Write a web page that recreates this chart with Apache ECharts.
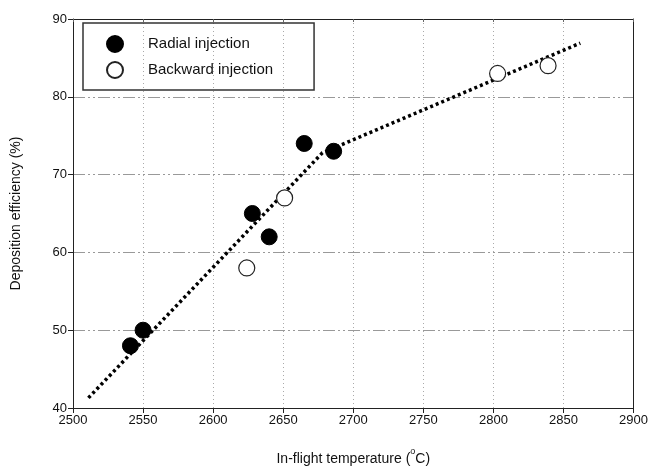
<!DOCTYPE html>
<html>
<head>
<meta charset="utf-8">
<script src="https://cdn.jsdelivr.net/npm/echarts@6/dist/echarts.min.js"></script>
<style>
  html, body { margin: 0; padding: 0; background: #fff; }
  #chart-container { width: 651px; height: 476px; }
</style>
</head>
<body>
<div id="chart-container"></div>
<script>
// datos
const radialTemp = [2541, 2550, 2628, 2640, 2665, 2686];
const radialDE = [48, 50, 65, 62, 74, 73];
const backwardTemp = [2624, 2651, 2803, 2839];
const backwardDE = [58, 67, 83, 84];
// recta de ajuste (dos tramos)
const fitTemp = [2511, 2678, 2862];
const fitDE = [41.3, 72.8, 86.9];

const xTicks = [2500, 2550, 2600, 2650, 2700, 2750, 2800, 2850, 2900];
const yTicks = [40, 50, 60, 70, 80, 90];

let myChart = echarts.init(document.getElementById('chart-container'), null, {
  renderer: 'canvas'
});

const fuente = 'Liberation Sans, Arial, sans-serif';

const opciones = {
  animation: false,
  grid: { left: 73, right: 17, top: 19, bottom: 68 },
  legend: {
    left: 83,
    top: 23,
    orient: 'vertical',
    itemWidth: 16,
    itemHeight: 16,
    itemGap: 8,
    padding: [12, 41, 11, 23],
    borderColor: '#333',
    borderWidth: 1.5,
    textStyle: { fontFamily: fuente, fontSize: 15, color: '#111', padding: [0, 0, 0, 20] },
    data: ['Radial injection', 'Backward injection']
  },
  xAxis: [{
    type: 'value',
    min: xTicks[0],
    max: xTicks[xTicks.length - 1],
    interval: 50,
    name: '{a|In-flight temperature (}{s|o}{a|C)}',
    nameLocation: 'middle',
    nameGap: 42,
    nameTextStyle: {
      rich: {
        a: { fontFamily: fuente, fontSize: 14, color: '#111', lineHeight: 18 },
        s: { fontFamily: fuente, fontSize: 9, color: '#111', lineHeight: 18, padding: [0, 0, 14, 0] }
      }
    },
    axisLine: { lineStyle: { color: '#222', width: 1 } },
    axisTick: { length: 5, lineStyle: { color: '#222' } },
    axisLabel: { fontFamily: fuente, fontSize: 13, color: '#111', margin: 6, formatter: v => String(v) },
    splitLine: { show: true, lineStyle: { color: '#aaa', type: [1, 3], width: 1 } }
  }, {
    type: 'value',
    position: 'top',
    min: xTicks[0],
    max: xTicks[xTicks.length - 1],
    interval: 50,
    axisLine: { show: true, lineStyle: { color: '#222', width: 1 } },
    axisTick: { show: true, inside: true, length: 3, lineStyle: { color: '#666' } },
    axisLabel: { show: false },
    splitLine: { show: false }
  }],
  yAxis: [{
    type: 'value',
    min: yTicks[0],
    max: yTicks[yTicks.length - 1],
    interval: 10,
    name: 'Deposition efficiency (%)',
    nameLocation: 'middle',
    nameGap: 50,
    nameTextStyle: { fontFamily: fuente, fontSize: 14, color: '#111' },
    axisLine: { show: true, lineStyle: { color: '#222', width: 1 } },
    axisTick: { show: true, length: 5, lineStyle: { color: '#222' } },
    axisLabel: { fontFamily: fuente, fontSize: 13, color: '#111', margin: 6 },
    splitLine: { show: true, lineStyle: { color: '#999', type: [12, 3, 2, 3, 2, 3], width: 1 } }
  }, {
    type: 'value',
    position: 'right',
    min: yTicks[0],
    max: yTicks[yTicks.length - 1],
    interval: 10,
    axisLine: { show: true, lineStyle: { color: '#222', width: 1 } },
    axisTick: { show: false },
    axisLabel: { show: false },
    splitLine: { show: false }
  }],
  series: [{
    name: 'ajuste',
    type: 'line',
    data: fitTemp.map((t, i) => [t, fitDE[i]]),
    symbol: 'none',
    lineStyle: { color: '#000', width: 3.5, type: [3, 3] },
    z: 2
  }, {
    name: 'Radial injection',
    type: 'scatter',
    data: radialTemp.map((t, i) => [t, radialDE[i]]),
    symbol: 'circle',
    symbolSize: 16,
    itemStyle: { color: '#000', borderColor: '#000', borderWidth: 1, opacity: 1 },
    z: 3
  }, {
    name: 'Backward injection',
    type: 'scatter',
    data: backwardTemp.map((t, i) => [t, backwardDE[i]]),
    symbol: 'circle',
    symbolSize: 16,
    itemStyle: { color: '#fff', borderColor: '#222', borderWidth: 1.2, opacity: 1 },
    z: 3
  }]
};

myChart.setOption(opciones);
window.addEventListener('resize', myChart.resize);
</script>
</body>
</html>
